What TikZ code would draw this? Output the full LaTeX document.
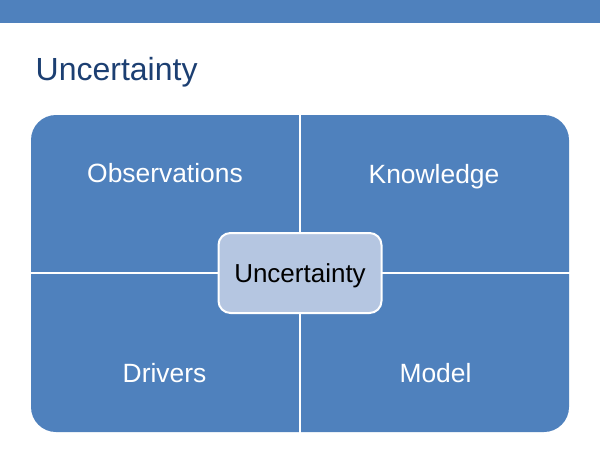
\documentclass[tikz,border=0pt]{standalone}
\usepackage{fontspec}
\setmainfont{Liberation Sans}
\definecolor{accent}{HTML}{4F81BD}
\definecolor{titleblue}{HTML}{1C3F72}
\definecolor{centerfill}{HTML}{B5C6E1}
\tikzset{
  quadlabel/.style={text=white, font=\fontsize{26.4}{31}\selectfont, anchor=base, inner sep=0pt},
  gapline/.style={draw=white, line width=2pt},
  centerbox/.style={fill=centerfill, draw=white, line width=2pt, rounded corners=12pt,
    minimum width=163pt, minimum height=80pt, inner sep=0pt, text=black, text depth=0pt,
    font=\fontsize{26}{31}\selectfont}
}
\begin{document}
\begin{tikzpicture}[x=1pt, y=-1pt]
\useasboundingbox[fill=white] (0,0) rectangle (600,450);
% top bar
\fill[accent] (0,0) rectangle (600,23.3);
% title
\node[anchor=base west, inner sep=0pt, text=titleblue, font=\fontsize{32}{38}\selectfont] (title) at (35.5,80) {Uncertainty};
% quadrant matrix
\fill[accent, rounded corners=25pt] (31,115) rectangle (569,432);
\coordinate (vt) at (300,114);
\coordinate (vb) at (300,433);
\coordinate (hl) at (30,273);
\coordinate (hr) at (570,273);
\draw[gapline] (vt) -- (vb);
\draw[gapline] (hl) -- (hr);
% labels
\node[quadlabel] (obs) at (165,182.5) {Observations};
\node[quadlabel] (know) at (434,183) {Knowledge};
\node[quadlabel] (drv) at (164.5,382.5) {Drivers};
\node[quadlabel] (mdl) at (435.5,382.5) {Model};
% center
\node[centerbox] (unc) at (300,273) {Uncertainty};
\end{tikzpicture}
\end{document}
